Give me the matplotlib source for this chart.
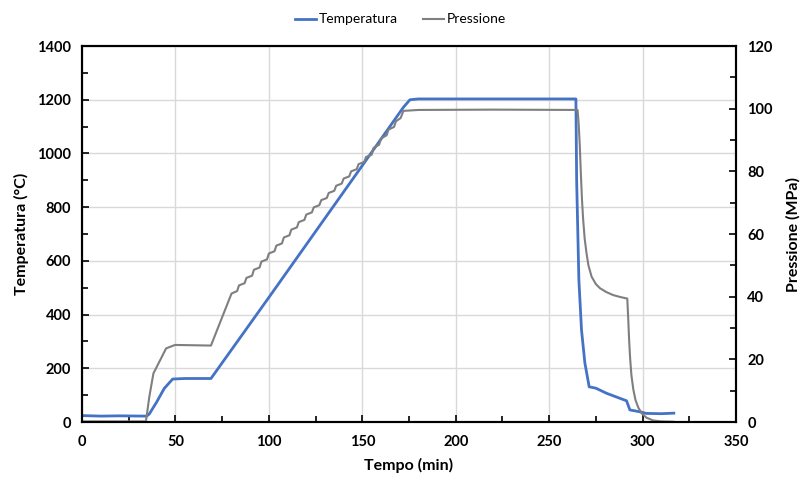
import matplotlib
matplotlib.use("Agg")
import matplotlib.pyplot as plt
from matplotlib.ticker import MultipleLocator

plt.rcParams["font.family"] = ["Lato", "DejaVu Sans"]

# Temperatura (°C) vs tempo (min)
time_T = [0, 10, 20, 34.6, 36, 40, 44, 48.5, 55, 69, 100, 150, 172, 175.5, 180,
          220, 264.3, 264.7, 265.9, 267.3, 269.1, 271.4, 275, 280.7, 291.4,
          293.2, 298.6, 302, 310, 316.7]
temp = [24, 22, 23, 22, 30, 75, 125, 160, 162, 162, 464, 955, 1172, 1200, 1203,
        1203, 1203, 900, 528, 343, 220, 131, 126, 107, 79,
        45, 38, 32, 31, 33]

# Pressione (MPa) vs tempo (min)
time_P = [0, 34.2, 36, 38.2, 45, 49.8, 69, 80,
          83, 84, 87, 88, 91, 92, 95, 96, 99, 100, 103, 104, 107, 108,
          111, 112, 115, 116, 119, 120, 123, 124, 127, 128, 131, 132,
          135, 136, 139, 140, 143, 144, 147, 148, 151, 152, 155, 156,
          159, 160, 163, 164, 167, 168, 170.5, 172, 180, 220, 265.2,
          265.8, 266.4, 267.0, 267.6, 268.2, 269.0, 270.0, 271.0, 272.7,
          275.0, 277.2, 280.5, 284.3, 288.0, 291.8, 292.3, 292.8, 293.3,
          294.0, 295.0, 296.2, 297.7, 299.5, 302.0, 305.7, 310.0, 316.4]
pres = [0.2, 0.2, 8, 15.5, 23.5, 24.6, 24.4, 41.0,
        41.8, 43.6, 44.3, 46.0, 46.7, 48.6, 49.3, 51.2, 51.9, 53.8, 54.5, 56.3, 57.0, 58.9,
        59.6, 61.4, 62.1, 63.8, 64.5, 66.2, 66.9, 68.5, 69.2, 70.8, 71.5, 73.1,
        73.8, 75.4, 76.1, 77.7, 78.4, 80.0, 80.7, 82.3, 83.0, 84.6, 85.3, 87.5,
        88.5, 90.5, 91.5, 93.3, 94.2, 96.0, 97.0, 99.3, 99.6, 99.7, 99.6,
        95.0, 88.0, 78.5, 70.5, 64.5, 58.5, 53.8, 50.0, 46.4,
        44.0, 42.7, 41.5, 40.5, 39.9, 39.4, 33.0, 26.0, 20.5,
        15.0, 10.5, 7.0, 4.6, 2.8, 1.4, 0.5, 0.2, 0.1]

blue = "#4472C4"
grey = "#7F7F7F"

fig = plt.figure(figsize=(8.01, 4.8), dpi=100)
ax = fig.add_axes([0.1024, 0.1208, 0.8165, 0.7833])
ax2 = ax.twinx()

l1, = ax.plot(time_T, temp, color=blue, lw=2.0, label="Temperatura")
l2, = ax2.plot(time_P, pres, color=grey, lw=1.5, label="Pressione")

ax.set_xlim(0, 350)
ax.set_ylim(0, 1400)
ax2.set_ylim(0, 120)

ax.xaxis.set_major_locator(MultipleLocator(50))
ax.xaxis.set_minor_locator(MultipleLocator(25))
ax.yaxis.set_major_locator(MultipleLocator(200))
ax.yaxis.set_minor_locator(MultipleLocator(100))
ax2.yaxis.set_major_locator(MultipleLocator(20))
ax2.yaxis.set_minor_locator(MultipleLocator(10))

ax.grid(True, which="major", color="#D9D9D9", lw=1.0)
ax.set_axisbelow(True)

for a in (ax, ax2):
    for sp in a.spines.values():
        sp.set_linewidth(1.5)
        sp.set_color("black")
    a.tick_params(which="both", direction="in", width=1.2, labelsize=10.5)
    a.tick_params(which="major", length=5)
    a.tick_params(which="minor", length=4)
    for lab in a.get_xticklabels() + a.get_yticklabels():
        lab.set_fontweight("bold")

ax.tick_params(axis="y", pad=8)
ax2.tick_params(axis="y", pad=8)
ax.tick_params(axis="x", pad=9)

ax.set_xlabel("Tempo (min)", fontsize=11.5, fontweight="bold", labelpad=7)
ax.set_ylabel("Temperatura (°C)", fontsize=11.5, fontweight="bold", labelpad=6)
ax2.set_ylabel("Pressione (MPa)", fontsize=11.5, fontweight="bold", labelpad=10)

fig.legend(handles=[l1, l2], loc="upper center", bbox_to_anchor=(0.5, 0.998),
           ncol=2, frameon=False, fontsize=10, handlelength=1.5,
           handletextpad=0.2, columnspacing=1.8)

fig.savefig("out.png", dpi=100)
